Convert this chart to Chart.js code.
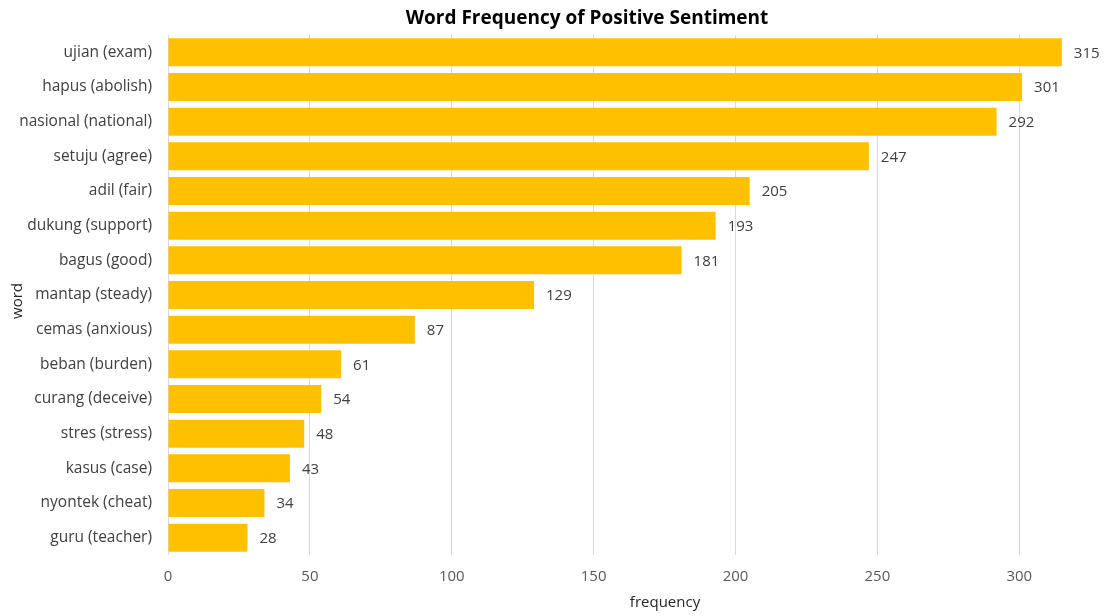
<!DOCTYPE html>
<html>
<head>
<meta charset="utf-8">
<script src="https://cdn.jsdelivr.net/npm/chart.js@4/dist/chart.umd.min.js"></script>
<style>
  html, body { margin: 0; padding: 0; background: #fff; }
  #wrap { width: 1107px; height: 616px; position: relative; }
</style>
</head>
<body>
<div id="wrap"><canvas id="c" width="1107" height="616"></canvas></div>
<script>
// Word list and counts
const words = [
  'ujian (exam)', 'hapus (abolish)', 'nasional (national)', 'setuju (agree)',
  'adil (fair)', 'dukung (support)', 'bagus (good)', 'mantap (steady)',
  'cemas (anxious)', 'beban (burden)', 'curang (deceive)', 'stres (stress)',
  'kasus (case)', 'nyontek (cheat)', 'guru (teacher)'
];
const frequency = [315, 301, 292, 247, 205, 193, 181, 129, 87, 61, 54, 48, 43, 34, 28];
const xTicks = [0, 50, 100, 150, 200, 250, 300];

const chartTitle = 'Word Frequency of Positive Sentiment';
const xTitle = 'frequency';
const yTitle = 'word';

const FONT = "'Open Sans', 'DejaVu Sans', sans-serif";

// Value labels at the end of each bar, plus titles
const labelsPlugin = {
  id: 'labels',
  afterDatasetsDraw(chart) {
    const ctx = chart.ctx;
    const meta = chart.getDatasetMeta(0);
    ctx.save();
    ctx.font = '15px ' + FONT;
    ctx.fillStyle = '#404040';
    ctx.textAlign = 'left';
    ctx.textBaseline = 'middle';
    meta.data.forEach((bar, i) => {
      ctx.fillText(String(frequency[i]), bar.x + 12, bar.y + 1);
    });
    ctx.restore();
  },
  afterDraw(chart) {
    const ctx = chart.ctx;
    const area = chart.chartArea;
    ctx.save();
    ctx.fillStyle = '#000';
    ctx.textAlign = 'center';
    ctx.textBaseline = 'middle';
    ctx.font = 'bold 19px ' + FONT;
    ctx.fillText(chartTitle, 587, 19);
    ctx.font = '15px ' + FONT;
    ctx.fillStyle = '#262626';
    ctx.fillText(xTitle, 665, 603);
    ctx.translate(18, (area.top + area.bottom) / 2 + 6);
    ctx.rotate(-Math.PI / 2);
    ctx.fillText(yTitle, 0, 0);
    ctx.restore();
  }
};

new Chart(document.getElementById('c'), {
  type: 'bar',
  data: {
    labels: words,
    datasets: [{
      data: frequency,
      backgroundColor: '#FFC000',
      borderWidth: 0,
      categoryPercentage: 1,
      barPercentage: 0.81
    }]
  },
  options: {
    indexAxis: 'y',
    responsive: false,
    animation: false,
    devicePixelRatio: 1,
    layout: { padding: { top: 35, right: 31, left: 0, bottom: 0 } },
    plugins: {
      legend: { display: false },
      title: { display: false },
      tooltip: { enabled: false }
    },
    scales: {
      x: {
        min: 0,
        max: 320,
        afterBuildTicks(scale) {
          scale.ticks = xTicks.map(v => ({ value: v }));
        },
        afterFit(scale) { scale.height = 61; },
        grid: { color: '#d9d9d9', lineWidth: 1, drawTicks: false },
        border: { display: false },
        ticks: {
          color: '#595959',
          font: { family: FONT, size: 15 },
          padding: 13
        }
      },
      y: {
        afterFit(scale) { scale.width = 168; },
        grid: { display: false, drawTicks: false },
        border: { display: false },
        ticks: {
          color: '#404040',
          font: { family: FONT, size: 15.5 },
          padding: 16,
          autoSkip: false
        }
      }
    }
  },
  plugins: [labelsPlugin]
});
</script>
</body>
</html>
